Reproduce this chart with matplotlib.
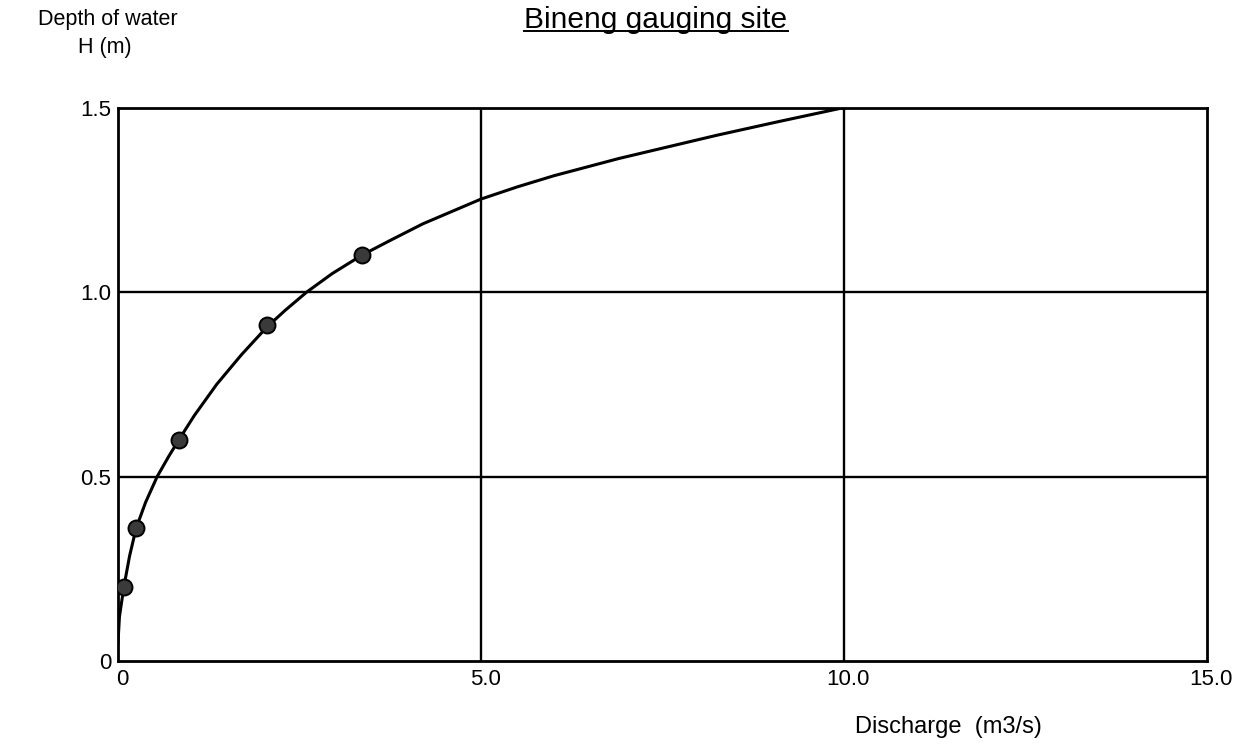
import matplotlib
matplotlib.use("Agg")
import matplotlib.pyplot as plt
from matplotlib.lines import Line2D
from matplotlib.transforms import ScaledTranslation

plt.rcParams['font.family'] = ['Liberation Sans', 'DejaVu Sans']

# Measured gaugings (discharge m3/s, depth m)
meas_q = [0.08, 0.25, 0.84, 2.05, 3.36]
meas_h = [0.20, 0.36, 0.60, 0.91, 1.10]

# Rating curve drawn through the gaugings
curve_q = [0.0, 0.02, 0.08, 0.16, 0.25, 0.38, 0.54, 0.70, 0.84, 1.05, 1.36,
           1.70, 2.05, 2.30, 2.60, 2.95, 3.36, 3.75, 4.20, 5.00, 5.50, 6.00,
           6.90, 7.50, 8.25, 9.10, 10.0]
curve_h = [0.05, 0.12, 0.20, 0.285, 0.36, 0.43, 0.50, 0.555, 0.60, 0.665, 0.75,
           0.83, 0.905, 0.95, 1.00, 1.05, 1.10, 1.14, 1.185, 1.252, 1.285, 1.315,
           1.362, 1.39, 1.425, 1.462, 1.50]

x_ticks = [0, 5, 10, 15]
x_tick_labels = ["0", "5.0", "10.0", "15.0"]
y_ticks = [0, 0.5, 1.0, 1.5]
y_tick_labels = ["0", "0.5", "1.0", "1.5"]

fig = plt.figure(figsize=(12.42, 7.52), dpi=100)
ax = fig.add_axes([0.095, 0.121, 0.877, 0.736])
ax.set_xlim(0, 15)
ax.set_ylim(0, 1.5)

# grid lines
for xv in [5, 10]:
    ax.axvline(xv, color='black', lw=1.7, zorder=1)
for yv in [0.5, 1.0]:
    ax.axhline(yv, color='black', lw=1.7, zorder=1)

ax.plot(curve_q, curve_h, color='black', lw=2.2, zorder=3,
        solid_joinstyle='round')
ax.plot(meas_q, meas_h, 'o', ms=11.5, mfc='#3a3a3a', mec='black', mew=1.4,
        zorder=4)

for s in ax.spines.values():
    s.set_linewidth(2.0)
    s.set_color('black')

ax.set_xticks(x_ticks)
ax.set_xticklabels(x_tick_labels, fontsize=16)
ax.set_yticks(y_ticks)
ax.set_yticklabels(y_tick_labels, fontsize=16)
ax.tick_params(axis='x', length=0, pad=6)
ax.tick_params(axis='y', length=0, pad=5)
shift = ScaledTranslation(4 / 100, 0, fig.dpi_scale_trans)
for lab in ax.get_xticklabels():
    lab.set_transform(lab.get_transform() + shift)

fig.text(108 / 1242, 1 - 20 / 752, "Depth of water", fontsize=15.5,
         ha='center', va='center')
fig.text(105 / 1242, 1 - 47 / 752, "H (m)", fontsize=15.5,
         ha='center', va='center')
fig.text(948 / 1242, 1 - 727 / 752, "Discharge  (m3/s)", fontsize=17,
         ha='center', va='center')

title = fig.text(656 / 1242, 1 - 20 / 752, "Bineng gauging site", fontsize=21.5,
                 ha='center', va='center')

# underline the title
fig.canvas.draw()
bb = title.get_window_extent(renderer=fig.canvas.get_renderer())
inv = fig.transFigure.inverted()
(x0, y0), (x1, y1) = inv.transform([(bb.x0, bb.y0), (bb.x1, bb.y1)])
fig.add_artist(Line2D([x0, x1], [y0 + 0.004, y0 + 0.004], color='black', lw=1.4,
                      transform=fig.transFigure))

fig.savefig("out.png", dpi=100, facecolor='white')
